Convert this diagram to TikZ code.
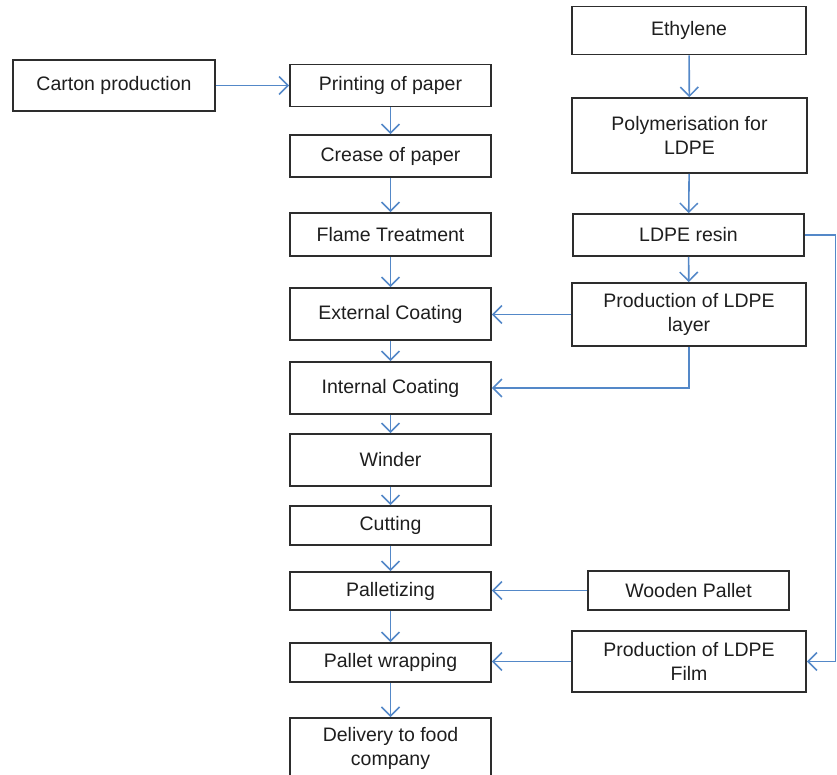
\documentclass[tikz,border=0pt]{standalone}
\usepackage{fontspec}
\setmainfont{Liberation Sans}
\usetikzlibrary{arrows.meta}
\definecolor{flowblue}{RGB}{84,136,200}
\definecolor{boxline}{RGB}{45,45,45}
\definecolor{txt}{RGB}{30,30,30}
\begin{document}
\begin{tikzpicture}[x=1pt,y=-1pt,
  box/.style={draw=boxline, line width=1.8pt, rectangle, inner sep=0pt, align=center,
    font=\fontsize{19.5}{24}\selectfont, text=txt},
  flow/.style={draw=flowblue, line width=1.6pt,
    -{Straight Barb[length=9pt,width=18pt,line width=1.5pt]}}]
\useasboundingbox (0,0) rectangle (837,774);
\clip (0,0) rectangle (837,774);
% left column
\node[box, minimum width=202pt, minimum height=51pt] (carton) at (114,85.5) {Carton production};
\node[box, minimum width=201pt, minimum height=42pt] (print) at (390.5,85.5) {Printing of paper};
\node[box, minimum width=201pt, minimum height=42pt] (crease) at (390.5,156) {Crease of paper};
\node[box, minimum width=201pt, minimum height=43pt] (flame) at (390.5,234.5) {Flame Treatment};
\node[box, minimum width=201pt, minimum height=52pt] (ext) at (390.5,314) {External Coating};
\node[box, minimum width=201pt, minimum height=52pt] (int) at (390.5,388) {Internal Coating};
\node[box, minimum width=201pt, minimum height=52pt] (winder) at (390.5,460) {Winder};
\node[box, minimum width=201pt, minimum height=39pt] (cut) at (390.5,525.5) {Cutting};
\node[box, minimum width=201pt, minimum height=38pt] (pallet) at (390.5,591) {Palletizing};
\node[box, minimum width=201pt, minimum height=39pt] (wrap) at (390.5,662.5) {Pallet wrapping};
\node[box, minimum width=201pt, minimum height=62pt, anchor=north] (deliv) at (390.5,717) {Delivery to food\\company};
% right column
\node[box, minimum width=234pt, minimum height=48pt] (eth) at (689,30.5) {Ethylene};
\node[box, minimum width=235pt, minimum height=75pt] (poly) at (689.5,135.5) {Polymerisation for\\LDPE};
\node[box, minimum width=231pt, minimum height=42pt] (resin) at (688.5,235) {LDPE resin};
\node[box, minimum width=234pt, minimum height=63pt] (layer) at (689,314.5) {Production of LDPE\\layer};
\node[box, minimum width=201pt, minimum height=39pt] (wood) at (688.5,590.5) {Wooden Pallet};
\node[box, minimum width=234pt, minimum height=61pt] (film) at (689,661.5) {Production of LDPE\\Film};
\coordinate (rc) at (835.5,235);
% connectors
\draw[flow] (carton.east) -- (print.west);
\draw[flow] (print) -- (crease);
\draw[flow] (crease) -- (flame);
\draw[flow] (flame) -- (ext);
\draw[flow] (ext) -- (int);
\draw[flow] (int) -- (winder);
\draw[flow] (winder) -- (cut);
\draw[flow] (cut) -- (pallet);
\draw[flow] (pallet) -- (wrap);
\draw[flow] (wrap) -- (deliv);
\draw[flow] (eth) -- (poly);
\draw[flow] (poly) -- (resin);
\draw[flow] (resin) -- (layer);
\draw[flow] (layer.west) -- (layer.west -| ext.east);
\draw[flow] (layer.south) |- (int.east);
\draw[flow] (resin.east) -- (rc) |- (film.east);
\draw[flow] (wood.west) -- (wood.west -| pallet.east);
\draw[flow] (film.west) -- (film.west -| wrap.east);
\end{tikzpicture}
\end{document}
